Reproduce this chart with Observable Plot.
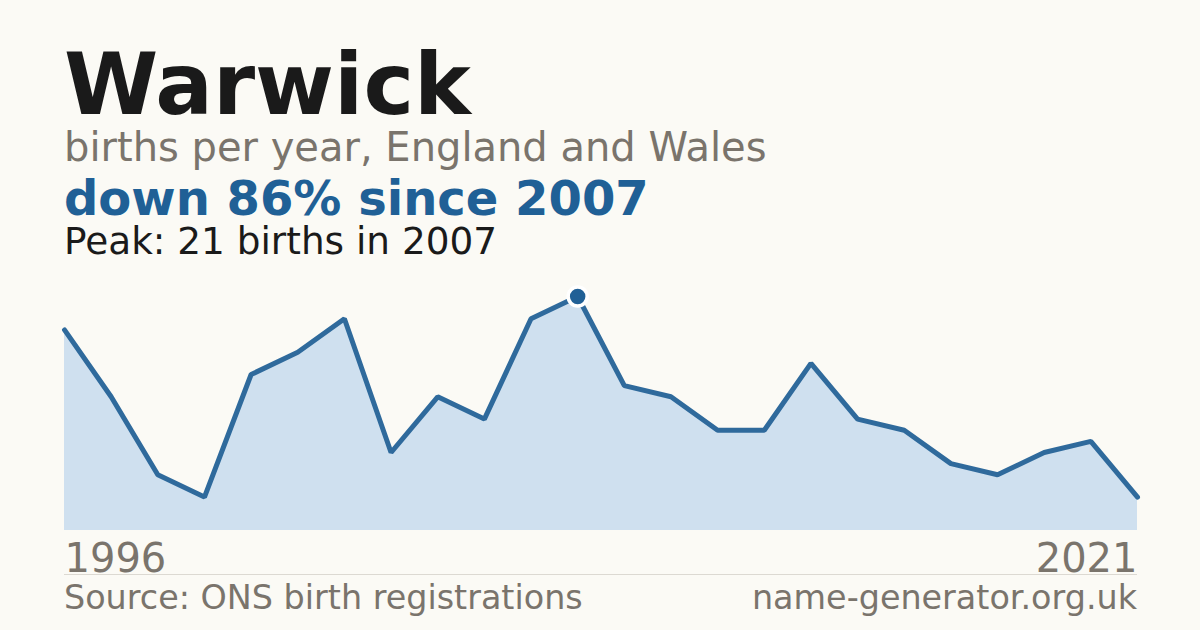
<!DOCTYPE html>
<html><head><meta charset="utf-8">
<script src="https://cdn.jsdelivr.net/npm/d3@7"></script>
<script src="https://cdn.jsdelivr.net/npm/@observablehq/plot@0.6"></script>
<style>
html,body{margin:0;padding:0;background:#fbfaf5;}
body{width:1200px;height:630px;position:relative;overflow:hidden;font-family:"DejaVu Sans",sans-serif;}
.t{position:absolute;left:64px;white-space:nowrap;line-height:0.8;}
#title{top:50.5px;font-size:85.5px;font-weight:bold;color:#1a1a1a;}
#sub{top:131px;font-size:40px;color:#7a746c;}
#head{top:178.8px;font-size:48px;font-weight:bold;color:#206096;}
#peak{top:226.7px;font-size:37.4px;color:#1a1a1a;}
#chart{position:absolute;left:0;top:280px;}
#rule{position:absolute;left:64px;width:1073px;top:574px;height:1px;background:#dcd9d2;}
#src{position:absolute;left:64px;top:585.3px;font-size:33.4px;color:#7a746c;line-height:0.8;white-space:nowrap;}
#site{position:absolute;right:63px;top:585.3px;font-size:33.4px;color:#7a746c;line-height:0.8;white-space:nowrap;}
</style></head>
<body>
<div class="t" id="title">Warwick</div>
<div class="t" id="sub">births per year, England and Wales</div>
<div class="t" id="head">down 86% since 2007</div>
<div class="t" id="peak">Peak: 21 births in 2007</div>
<div id="chart"></div>
<div id="rule"></div>
<div id="src">Source: ONS birth registrations</div>
<div id="site">name-generator.org.uk</div>
<script>
const years = [1996,1997,1998,1999,2000,2001,2002,2003,2004,2005,2006,2007,2008,2009,2010,2011,2012,2013,2014,2015,2016,2017,2018,2021];
const births = [18,12,5,3,14,16,19,7,12,10,19,21,13,12,9,9,15,10,9,6,5,7,8,3];
const tickLabels = ["1996","2021"];
const peakYear = 2007;

const data = years.map((y,i)=>({i, year:y, births:births[i]}));
const peak = data.filter(d=>d.year===peakYear);
const blue = "#206096";

const chart = Plot.plot({
  width:1200, height:300,
  marginLeft:64, marginRight:63, marginTop:16, marginBottom:50,
  x:{domain:[0,data.length-1], axis:null},
  y:{domain:[0,21], axis:null},
  style:{background:"transparent", fontFamily:"DejaVu Sans, sans-serif"},
  marks:[
    Plot.areaY(data,{x:"i", y:"births", fill:"#cfe0ef"}),
    Plot.lineY(data,{x:"i", y:"births", stroke:"#2f6a9c", strokeWidth:5, strokeLinejoin:"miter"}),
    Plot.dot(peak,{x:"i", y:"births", r:9.5, fill:blue, stroke:"white", strokeWidth:3.5}),
    Plot.text([tickLabels[0]],{x:0, y:0, text:d=>d, textAnchor:"start", lineAnchor:"bottom", dy:41, fontSize:40, fill:"#7a746c"}),
    Plot.text([tickLabels[1]],{x:data.length-1, y:0, text:d=>d, textAnchor:"end", lineAnchor:"bottom", dy:41, fontSize:40, fill:"#7a746c"})
  ]
});
document.getElementById("chart").appendChild(chart);
</script>
</body></html>
